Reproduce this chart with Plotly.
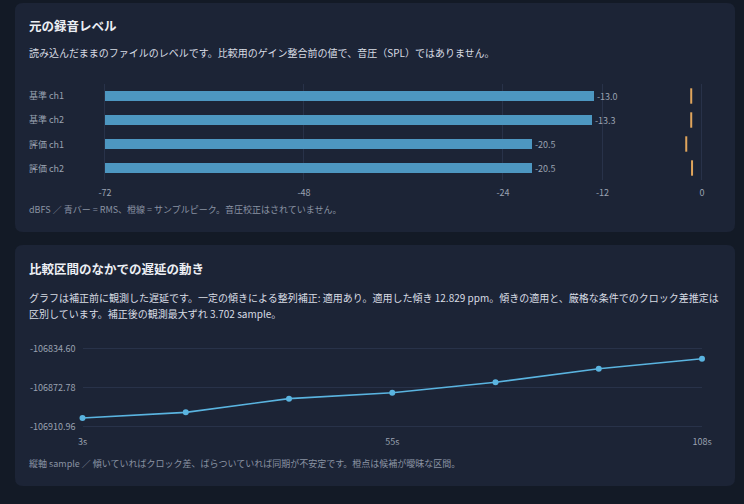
import plotly.graph_objects as go

# ---------------- data ----------------
channels = ["基準 ch1", "基準 ch2", "評価 ch1", "評価 ch2"]
rms_dbfs = [-13.0, -13.3, -20.5, -20.5]
peak_dbfs = [-1.3, -1.3, -1.9, -1.2]
level_ticks = [-72, -48, -24, -12, 0]

time_s = [3, 20.5, 38, 55.5, 73, 90.5, 108]
delay_samples = [-106902.2, -106896.6, -106883.2, -106877.4, -106867.2, -106853.9, -106844.1]
delay_tickvals = [-106910.96, -106872.78, -106834.60]
time_tickvals = [3, 55.5, 108]
time_ticktext = ["3s", "55s", "108s"]

# ---------------- layout helpers ----------------
W, H = 744, 504
def px(x):
    return x / W
def py(y):
    return 1 - y / H

PAGE = "#131a26"
CARD = "#1c2436"
GRID = "#283249"
TXT = "#eceff4"
SUB = "#d8dce4"
MUTED = "#9aa2b1"
FOOT = "#8a93a3"
FONT = "Noto Sans CJK JP, Noto Sans, sans-serif"

def card_path(x0, y0, x1, y1, r=8):
    rx, ry = r / W, r / H
    X0, X1 = px(x0), px(x1)
    Y0, Y1 = py(y0), py(y1)
    return (f"M {X0+rx},{Y0} L {X1-rx},{Y0} Q {X1},{Y0} {X1},{Y0-ry} "
            f"L {X1},{Y1+ry} Q {X1},{Y1} {X1-rx},{Y1} "
            f"L {X0+rx},{Y1} Q {X0},{Y1} {X0},{Y1+ry} "
            f"L {X0},{Y0-ry} Q {X0},{Y0} {X0+rx},{Y0} Z")

fig = go.Figure()

fig.add_trace(go.Bar(
    y=channels, x=[v - level_ticks[0] for v in rms_dbfs], base=level_ticks[0],
    orientation="h", width=0.42,
    marker=dict(color="#4d97c1", line=dict(width=0)),
    text=[f"{v:.1f}" for v in rms_dbfs], textposition="outside", constraintext="none",
    textfont=dict(size=9, color=MUTED, family=FONT),
    cliponaxis=False, xaxis="x", yaxis="y", hoverinfo="skip",
))
fig.add_trace(go.Scatter(
    y=channels, x=peak_dbfs, mode="markers",
    marker=dict(symbol="line-ns", size=11, color="#e0a55c",
                line=dict(width=2, color="#e0a55c")),
    cliponaxis=False, xaxis="x", yaxis="y", hoverinfo="skip",
))
fig.add_trace(go.Scatter(
    x=time_s, y=delay_samples, mode="lines+markers",
    line=dict(color="#5ab4e0", width=1.6),
    marker=dict(color="#5ab4e0", size=6),
    cliponaxis=False, xaxis="x2", yaxis="y2", hoverinfo="skip",
))

shapes = [
    dict(type="path", xref="paper", yref="paper", path=card_path(15, 3, 735, 232),
         fillcolor=CARD, line=dict(width=0), layer="below"),
    dict(type="path", xref="paper", yref="paper", path=card_path(15, 245, 735, 486),
         fillcolor=CARD, line=dict(width=0), layer="below"),
]

annotations = []
def text(x, y, s, size, color, bold=False):
    annotations.append(dict(
        xref="paper", yref="paper", x=px(x), y=py(y), text=f"<b>{s}</b>" if bold else s,
        showarrow=False, xanchor="left", yanchor="middle", borderpad=0,
        font=dict(size=size, color=color, family=FONT),
    ))

text(28, 25, "元の録音レベル", 12.5, TXT, bold=True)
text(28, 53, "読み込んだままのファイルのレベルです。比較用のゲイン整合前の値で、音圧（SPL）ではありません。", 10, SUB)
text(28, 209, "dBFS ／ 青バー = RMS、橙線 = サンプルピーク。音圧校正はされていません。", 9, FOOT)
text(28, 268, "比較区間のなかでの遅延の動き", 12.5, TXT, bold=True)
text(28, 297, "グラフは補正前に観測した遅延です。一定の傾きによる整列補正: 適用あり。適用した傾き 12.829 ppm。傾きの適用と、厳格な条件でのクロック差推定は", 10, SUB)
text(28, 313, "区別しています。補正後の観測最大ずれ 3.702 sample。", 10, SUB)
text(28, 463, "縦軸 sample ／ 傾いていればクロック差、ばらついていれば同期が不安定です。橙点は候補が曖昧な区間。", 9, FOOT)

for c in channels:
    annotations.append(dict(
        xref="paper", yref="y", x=px(28), y=c, text=c, showarrow=False, borderpad=0,
        xanchor="left", yanchor="middle", font=dict(size=9, color=MUTED, family=FONT),
    ))

xpad = 0.25
xppu = 597 / 72
ypad = 1.0
yppu = 78 / (delay_tickvals[-1] - delay_tickvals[0])

fig.update_layout(
    template="none",
    width=W, height=H, margin=dict(l=0, r=0, t=0, b=0, pad=0, autoexpand=False), autosize=False,
    paper_bgcolor=PAGE, plot_bgcolor="rgba(0,0,0,0)",
    showlegend=False, bargap=0,
    font=dict(family=FONT, color=MUTED, size=9),
    shapes=shapes, annotations=annotations,
    xaxis=dict(domain=[px(105 - xpad * xppu), px(702 + xpad * xppu)],
               range=[level_ticks[0] - xpad, level_ticks[-1] + xpad],
               tickvals=level_ticks, ticktext=[str(v) for v in level_ticks],
               showgrid=True, gridcolor=GRID, gridwidth=1, zeroline=False, showline=False,
               ticks="", tickfont=dict(size=9, color=MUTED), ticklabelstandoff=6,
               automargin=False, anchor="y"),
    yaxis=dict(domain=[py(180), py(84)], autorange="reversed", showticklabels=False,
               showgrid=False, zeroline=False, showline=False, ticks="",
               automargin=False, anchor="x"),
    xaxis2=dict(domain=[px(82.5), px(702)], range=[time_s[0], time_s[-1]], tickvals=time_tickvals,
                ticktext=time_ticktext, showgrid=False, zeroline=False, showline=False,
                ticks="", tickfont=dict(size=9, color=MUTED), ticklabelstandoff=7,
                automargin=False, anchor="y2"),
    yaxis2=dict(domain=[py(427 + ypad * yppu), py(349 - ypad * yppu)],
                range=[delay_tickvals[0] - ypad, delay_tickvals[-1] + ypad],
                tickvals=delay_tickvals, ticktext=[f"{v:.2f}" for v in delay_tickvals],
                showgrid=True, gridcolor=GRID,
                gridwidth=1, zeroline=False, showline=False, ticks="",
                tickfont=dict(size=9, color=MUTED), ticklabelstandoff=6,
                automargin=False, anchor="x2"),
)

post = ("document.documentElement.style.margin='0';document.body.style.margin='0';"
        "document.body.style.overflow='hidden';document.body.style.background='%s';"
        "var gd=document.getElementById('{plot_id}');"
        "Plotly.relayout(gd,{width:%d,height:%d});") % (PAGE, W, H)

fig.write_html("out.html", config={"displayModeBar": False, "responsive": False},
               default_width="744px", default_height="504px", post_script=post)
